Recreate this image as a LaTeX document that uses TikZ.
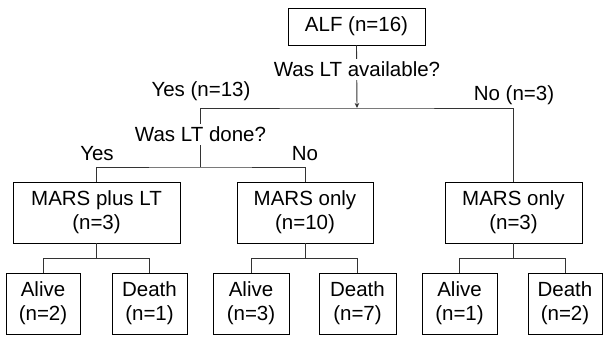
\documentclass[tikz,border=0pt]{standalone}
\usepackage{fontspec}
\setmainfont{Liberation Sans}
\usetikzlibrary{arrows.meta}

\begin{document}
\begin{tikzpicture}[x=1pt,y=-1pt,
    every node/.style={font=\fontsize{20.5}{24}\selectfont},
    box/.style={draw, line width=0.9pt, inner sep=0pt, align=center,
      minimum height=61pt},
    question/.style={fill=white, inner xsep=1pt, inner ysep=3pt},
    branch/.style={anchor=base},
    link/.style={line width=0.9pt, draw=black!80}]
    \useasboundingbox (0,0) rectangle (603,338);
    % Draw the boxes
    \node[box, minimum width=137pt, minimum height=37pt] (alf) at (356.5,26.5) {ALF (n=16)};
    \node[box, minimum width=167pt] (plus) at (96.5,212.5) {MARS plus LT\\(n=3)};
    \node[box, minimum width=136pt] (onlyA) at (305,212.5) {MARS only\\(n=10)};
    \node[box, minimum width=137pt] (onlyB) at (513.5,212.5) {MARS only\\(n=3)};
    \node[box, minimum width=74pt] (aliveA) at (43,303.5) {Alive\\(n=2)};
    \node[box, minimum width=75pt] (deathA) at (149.5,303.5) {Death\\(n=1)};
    \node[box, minimum width=76pt] (aliveB) at (251,303.5) {Alive\\(n=3)};
    \node[box, minimum width=77pt] (deathB) at (357.5,303.5) {Death\\(n=7)};
    \node[box, minimum width=75pt] (aliveC) at (459.5,303.5) {Alive\\(n=1)};
    \node[box, minimum width=74pt] (deathC) at (565,303.5) {Death\\(n=2)};
    % Draw the junctions
    \coordinate (avail) at (357,108);
    \coordinate (done) at (200,167);
    % Draw the tree lines
    \draw[link, -{Stealth[length=5pt,width=4.5pt]}] (alf.south) -- (avail);
    \draw[link] (done) |- (avail) -| (onlyB.north);
    \draw[link] (plus.north) |- (done) -| (onlyA.north);
    \foreach \up/\left/\right in {plus/aliveA/deathA, onlyA/aliveB/deathB, onlyB/aliveC/deathC}{
      \draw[link] (\left.north) |- ([yshift=-15pt]\up.south) -| (\right.north);
      \draw[link] (\up.south) -- ++(0,15);
    }
    % Label the questions
    \node[question] (qavail) at (357,69.5) {Was LT available?};
    \node[question] (qdone) at (200.5,134.5) {Was LT done?};
    % Label the branches
    \node[branch] (yesavail) at (201,96.5) {Yes (n=13)};
    \node[branch] (noavail) at (514,100) {No (n=3)};
    \node[branch] (yesdone) at (97,160.5) {Yes};
    \node[branch] (nodone) at (305,160.5) {No};
\end{tikzpicture}
\end{document}
